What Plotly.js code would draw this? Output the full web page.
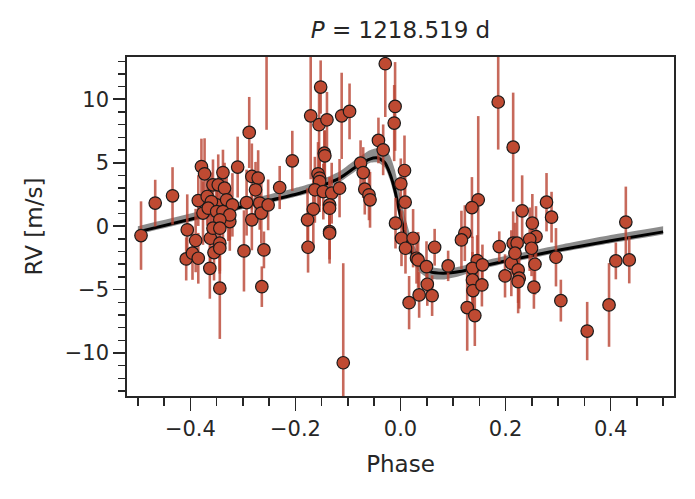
<!DOCTYPE html>
<html>
<head>
<meta charset="utf-8">
<script src="https://cdn.plot.ly/plotly-3.0.1.min.js"></script>
<style>html,body{margin:0;padding:0;background:#fff;}#chart{width:695px;height:499px;}</style>
</head>
<body>
<div id="chart"></div>
<script>
// Observed RVs (phase-folded)
const phase = [
 -0.494,-0.467,-0.434,-0.406,-0.408,-0.396,-0.39,-0.385,-0.379,-0.373,
 -0.385,-0.376,-0.368,-0.363,-0.362,-0.357,-0.355,-0.35,-0.347,-0.344,
 -0.344,-0.344,-0.338,-0.335,-0.331,-0.328,-0.325,-0.32,-0.31,-0.298,
 -0.293,-0.288,-0.283,-0.283,-0.271,-0.276,-0.268,-0.265,-0.26,-0.264,
 -0.252,-0.255,-0.23,-0.36,-0.366,-0.35,-0.338,-0.325,-0.344,-0.357,-0.344,
 -0.206,-0.171,-0.152,-0.155,-0.14,-0.112,-0.097,-0.145,-0.144,-0.157,
 -0.154,-0.154,-0.163,-0.147,-0.131,-0.116,-0.166,-0.177,-0.176,-0.135,
 -0.135,-0.135,-0.135,-0.109,-0.076,-0.071,-0.068,-0.06,-0.058,-0.042,
 -0.033,-0.029,-0.0103,-0.012,0.0076,0.0006,0.0089,-0.0095,0.0019,0.0095,
 0.024,0.0305,0.0335,0.0495,0.065,0.051,0.0164,0.0355,0.0602,0.0907,
 0.186,0.2145,0.148,0.136,0.1225,0.116,0.146,0.137,0.156,0.137,
 0.138,0.155,0.127,0.1415,0.188,0.199,0.211,0.2145,0.222,0.218,
 0.224,0.226,0.224,0.2316,0.251,0.258,0.246,0.2495,0.256,0.254,
 0.278,0.2876,0.296,0.3053,0.3554,0.397,0.41,0.4355,0.429
];
const rv = [
 -0.74,1.82,2.39,-0.29,-2.58,-2.13,-1.13,-2.53,4.70,4.13,
 2.02,1.03,2.34,-3.32,-0.95,3.26,-2.08,1.68,3.26,-4.89,
 -1.34,-1.74,4.23,3.0,2.08,1.03,0.36,1.68,4.66,-1.95,
 1.86,7.39,0.5,3.92,3.79,2.87,1.82,1.03,-1.87,-4.77,
 1.68,14.6,3.05,1.94,1.42,1.15,1.15,0.89,0.5,-0.16,-0.16,
 5.15,8.7,10.97,8.0,8.39,8.7,9.05,5.76,5.55,4.13,
 3.79,3.52,2.87,2.73,2.6,3.0,1.34,0.5,-1.66,1.68,
 1.42,-0.42,-0.55,-10.77,4.97,4.23,2.92,2.47,2.08,6.76,
 6.02,12.81,9.44,8.13,4.39,3.34,1.89,0.24,-0.95,-1.74,
 -0.95,-2.53,-2.66,-3.19,-1.66,-4.58,-6.03,-5.42,-5.48,-3.13,
 9.79,6.23,2.08,1.47,-0.55,-1.08,-2.71,-3.32,-3.05,-4.24,
 -5.08,-4.63,-6.42,-7.05,-1.61,-3.92,-2.92,-1.34,-1.34,-2.13,
 -3.45,-4.1,-4.37,1.21,0.24,-0.82,-1.03,-1.74,-3.0,-4.81,
 1.89,0.71,-2.45,-5.87,-8.27,-6.21,-2.74,-2.66,0.32
];
const rvErr = [
 2.7,1.84,2.26,2.8,1.7,2.1,2.5,2.0,2.2,2.8,
 2.0,2.5,2.3,2.4,2.0,2.0,2.2,2.0,2.4,4.0,
 2.2,2.0,1.8,2.0,2.2,2.2,2.3,2.5,2.4,3.2,
 2.6,2.8,2.4,2.6,2.2,2.2,2.1,2.4,1.45,1.6,
 2.0,7.0,1.7,2.3,2.4,2.2,2.2,2.0,2.3,2.4,2.1,
 2.37,5.0,2.1,2.5,2.2,3.4,2.2,1.8,2.0,2.5,
 2.2,2.4,2.6,2.2,2.4,2.3,3.0,2.5,2.0,2.2,
 2.4,2.2,2.4,7.85,1.8,2.0,2.0,2.0,2.2,1.8,
 2.0,4.2,3.5,3.0,2.76,2.0,2.2,2.0,2.2,2.0,
 2.3,2.0,2.2,2.0,1.45,1.7,2.1,1.8,1.6,1.2,
 3.75,4.3,6.6,2.4,2.2,2.3,2.0,2.5,1.6,2.2,
 2.4,1.7,3.4,2.4,1.2,1.7,2.6,2.5,2.6,2.4,
 2.6,2.4,2.5,2.8,2.3,2.4,2.5,2.2,2.4,1.7,
 2.3,2.0,2.3,1.65,2.3,3.3,1.45,1.85,2.8
];

// Keplerian model curve and its uncertainty band
const modelPhase = [-0.5,-0.4,-0.3,-0.1918,-0.1537,-0.1156,-0.0838,-0.0585,-0.0427,-0.030,-0.0204,-0.0109,-0.0013,0.0082,0.021,0.0368,0.0558,0.081,0.113,0.151,0.2,0.3,0.4,0.5];
const modelRV    = [-0.45,0.55,1.55,2.60,3.13,3.79,4.70,5.29,5.37,5.02,4.18,2.87,1.03,-0.55,-2.0,-3.05,-3.58,-3.71,-3.58,-3.19,-2.75,-1.9,-1.15,-0.45];
const bandUpper  = [0.0,1.0,2.0,3.1,3.63,4.34,5.3,5.99,6.17,6.02,5.58,4.47,2.63,0.85,-1.0,-2.45,-3.18,-3.36,-3.18,-2.79,-2.35,-1.5,-0.7,0.0];
const bandLower  = [-0.65,0.35,1.35,2.40,2.88,3.49,4.40,4.99,5.02,4.62,3.68,2.27,0.43,-1.15,-2.6,-3.65,-4.13,-4.21,-3.93,-3.44,-2.95,-2.1,-1.35,-0.65];

const xTickVals = [-0.4,-0.2,0,0.2,0.4];
const xTickText = ['\u22120.4','\u22120.2','0.0','0.2','0.4'];
const yTickVals = [-10,-5,0,5,10];
const yTickText = ['\u221210','\u22125','0','5','10'];

const ink = '#262626';
const font = 'DejaVu Sans, sans-serif';

const traces = [
  {x: modelPhase, y: bandLower, mode:'lines', line:{width:0, shape:'spline', smoothing:0.6}, hoverinfo:'skip', showlegend:false},
  {x: modelPhase, y: bandUpper, mode:'lines', line:{width:0, shape:'spline', smoothing:0.6}, fill:'tonexty', fillcolor:'rgba(120,120,120,0.85)', hoverinfo:'skip', showlegend:false},
  {x: modelPhase, y: modelRV, mode:'lines', line:{color:'#000', width:3, shape:'spline', smoothing:0.6}, showlegend:false},
  {x: phase, y: rv, mode:'markers', type:'scatter',
   error_y:{type:'data', array: rvErr, visible:true, color:'rgba(185,68,50,0.8)', thickness:2.6, width:0},
   marker:{size:12.5, color:'#bf4a32', line:{color:'#1a1a1a', width:1.2}},
   cliponaxis:true, showlegend:false}
];

const axisCommon = {
  showgrid:false, zeroline:false, showline:true, linecolor:ink, linewidth:1.8, mirror:true,
  ticks:'outside', tickcolor:ink, tickwidth:1.8,
  tickfont:{family:font, size:21, color:ink}
};

const layout = {
  width:695, height:499,
  margin:{l:127, r:21, t:57, b:103},
  paper_bgcolor:'#fff', plot_bgcolor:'#fff',
  font:{family:font, color:ink},
  title:{text:'<i>P</i> = 1218.519 d', font:{family:font, size:23, color:ink}, x:0.5, xref:'paper', y:0.94, yref:'container', yanchor:'middle'},
  xaxis: Object.assign({}, axisCommon, {
    range:[-0.5207,0.5207], tickmode:'array', tickvals:xTickVals, ticktext:xTickText, ticklen:13,
    minor:{tickmode:'linear', tick0:0, dtick:0.05, ticks:'outside', ticklen:8, tickwidth:1.5, tickcolor:ink, showgrid:false},
    title:{text:'Phase', font:{family:font, size:23, color:ink}, standoff:16}
  }),
  yaxis: Object.assign({}, axisCommon, {
    range:[-13.39,13.34], tickmode:'array', tickvals:yTickVals, ticktext:yTickText, ticklen:12,
    minor:{tickmode:'linear', tick0:0, dtick:1, ticks:'outside', ticklen:7, tickwidth:1.5, tickcolor:ink, showgrid:false},
    title:{text:'RV [m/s]', font:{family:font, size:23, color:ink}, standoff:16}
  })
};

Plotly.newPlot('chart', traces, layout, {staticPlot:true, displayModeBar:false});
</script>
</body>
</html>
